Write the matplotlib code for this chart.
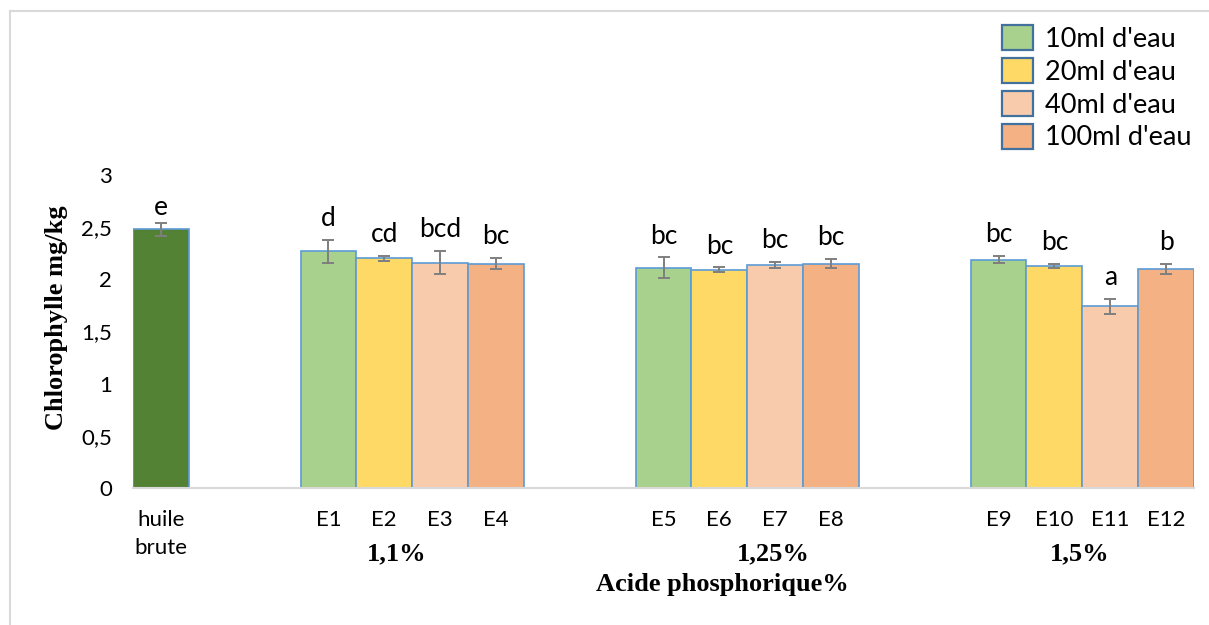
import numpy as np
import matplotlib.pyplot as plt
from matplotlib.patches import Patch
from matplotlib.lines import Line2D
from matplotlib.transforms import blended_transform_factory

plt.rcParams.update({'font.family': 'Lato'})

# data
ref_label = 'huile\nbrute'
ref_value = 2.48
ref_err = 0.06
ref_letter = 'e'

groups = ['1,1%', '1,25%', '1,5%']
samples = [['E1', 'E2', 'E3', 'E4'],
           ['E5', 'E6', 'E7', 'E8'],
           ['E9', 'E10', 'E11', 'E12']]
water = ["10ml d'eau", "20ml d'eau", "40ml d'eau", "100ml d'eau"]
values = [[2.27, 2.20, 2.16, 2.15],
          [2.11, 2.09, 2.14, 2.15],
          [2.19, 2.13, 1.74, 2.10]]
errors = [[0.11, 0.025, 0.11, 0.055],
          [0.10, 0.024, 0.027, 0.043],
          [0.034, 0.018, 0.075, 0.045]]
letters = [['d', 'cd', 'bcd', 'bc'],
           ['bc', 'bc', 'bc', 'bc'],
           ['bc', 'bc', 'a', 'b']]

ref_colour = '#548235'
colours = ['#A9D18E', '#FFD966', '#F8CBAD', '#F4B183']
edge = '#5B9BD5'
err_col = '#7F7F7F'
serif = 'Liberation Serif'

W, H = 1209, 625
fig = plt.figure(figsize=(W / 100, H / 100), dpi=100)
ax = fig.add_axes([133 / W, 1 - 488 / H, (1194 - 133) / W, (488 - 175) / H])

# excel layout: reference bar, then 3 groups of 4 with 2 empty slots between
xs = [0]
tick_labels = [ref_label]
ax.bar(0, ref_value, width=1.0, color=ref_colour, edgecolor=edge, linewidth=1.2)
ax.errorbar(0, ref_value, yerr=ref_err, fmt='none', ecolor=err_col,
            elinewidth=1.4, capsize=4, capthick=1.4)
ax.annotate(ref_letter, (0, ref_value + ref_err), xytext=(0, 6),
            textcoords='offset points', ha='center', va='baseline', fontsize=19)

for g in range(len(groups)):
    start = 3 + 6 * g
    for i in range(4):
        x = start + i
        v = values[g][i]
        e = errors[g][i]
        ax.bar(x, v, width=1.0, color=colours[i], edgecolor=edge, linewidth=1.2)
        ax.errorbar(x, v, yerr=e, fmt='none', ecolor=err_col,
                    elinewidth=1.4, capsize=4, capthick=1.4)
        ax.annotate(letters[g][i], (x, v + e), xytext=(0, 10),
                    textcoords='offset points', ha='center', va='baseline',
                    fontsize=19)
        xs.append(x)
        tick_labels.append(samples[g][i])

ax.set_xlim(-0.5, 18.5)
ax.set_ylim(0, 3)
ax.set_xticks(xs, tick_labels)
yt = np.arange(0, 3.01, 0.5)
ax.set_yticks(yt, ['0', '0,5', '1', '1,5', '2', '2,5', '3'])
ax.tick_params(axis='x', length=0, pad=16, labelsize=16)
ax.tick_params(axis='y', length=0, pad=15, labelsize=16)
for lbl in ax.get_xticklabels():
    lbl.set_linespacing(1.5)

for s in ['top', 'right', 'left']:
    ax.spines[s].set_visible(False)
ax.spines['bottom'].set_color('#D9D9D9')
ax.spines['bottom'].set_linewidth(1.5)

# group and axis titles
tr = blended_transform_factory(ax.transData, fig.transFigure)
for gx, name in zip([4.22, 10.96, 16.46], groups):
    ax.text(gx, 1 - 554 / H, name, transform=tr, ha='center', va='center',
            fontsize=19, fontweight='bold', family=serif)
ax.text(10.05, 1 - 585 / H, 'Acide phosphorique%', transform=tr, ha='center',
        va='center', fontsize=19, fontweight='bold', family=serif)
fig.text(57 / W, 1 - 318 / H, 'Chlorophylle mg/kg', rotation=90, ha='center',
         va='center', fontsize=19, fontweight='bold', family=serif)

handles = [Patch(facecolor=c, edgecolor='#41719C', linewidth=1.6) for c in colours]
fig.legend(handles, water, loc='upper left', bbox_to_anchor=(1002 / W, 1 - 25 / H),
           frameon=False, fontsize=19.5, handlelength=1.13, handleheight=1.06,
           handletextpad=0.45, labelspacing=0.22, borderpad=0, borderaxespad=0)

# chart area border (only left and top visible)
fig.add_artist(Line2D([10 / W, 10 / W], [0, 1 - 11 / H], color='#D9D9D9',
                      lw=1.5, transform=fig.transFigure))
fig.add_artist(Line2D([10 / W, 1], [1 - 11 / H, 1 - 11 / H], color='#D9D9D9',
                      lw=1.5, transform=fig.transFigure))

fig.savefig('out.png', dpi=100)
